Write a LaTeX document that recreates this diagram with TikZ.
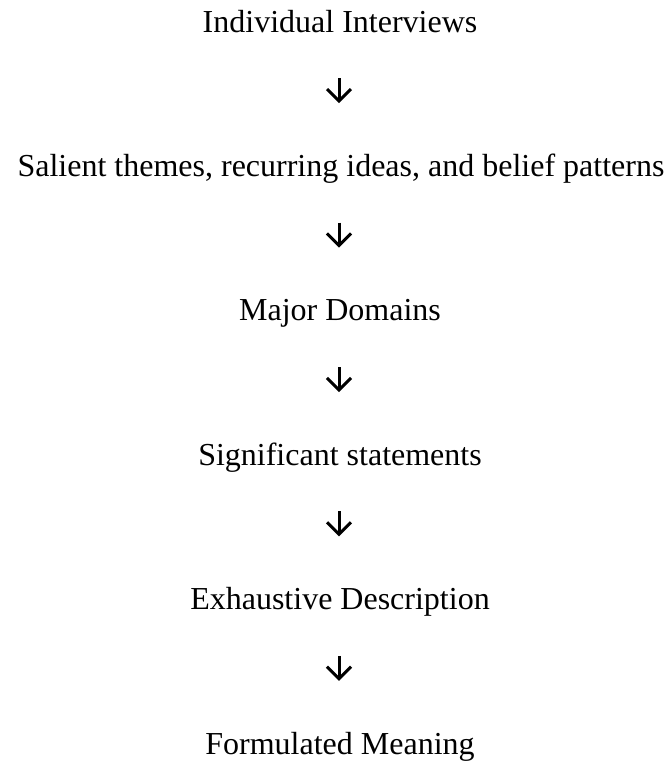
\documentclass[tikz,border=0pt]{standalone}
\usepackage{fontspec}
\setmainfont{Liberation Serif}
\usetikzlibrary{arrows.meta}
\tikzset{
  stage/.style={anchor=base, inner sep=0pt, text height=21pt, text depth=7pt,
    font=\fontsize{32}{38}\selectfont},
  flowarrow/.style={line width=3pt, -{Straight Barb[length=12pt,width=24pt,line width=3pt]},
    shorten <=39pt, shorten >=52pt}
}
\begin{document}
\begin{tikzpicture}[x=1pt,y=1pt]
\useasboundingbox (0,0) rectangle (669,-764);
\node[stage] (n1) at (340,-32) {Individual Interviews};
\node[stage] (n2) at (341,-176.4) {Salient themes, recurring ideas, and belief patterns};
\node[stage] (n3) at (340,-320.8) {Major Domains};
\node[stage] (n4) at (340,-465.2) {Significant statements};
\node[stage] (n5) at (340,-609.6) {Exhaustive Description};
\node[stage] (n6) at (340,-754) {Formulated Meaning};
\foreach \a/\b in {n1/n2,n2/n3,n3/n4,n4/n5,n5/n6}
  \draw[flowarrow] (\a.south -| 339,0) -- (\b.north -| 339,0);
\end{tikzpicture}
\end{document}
